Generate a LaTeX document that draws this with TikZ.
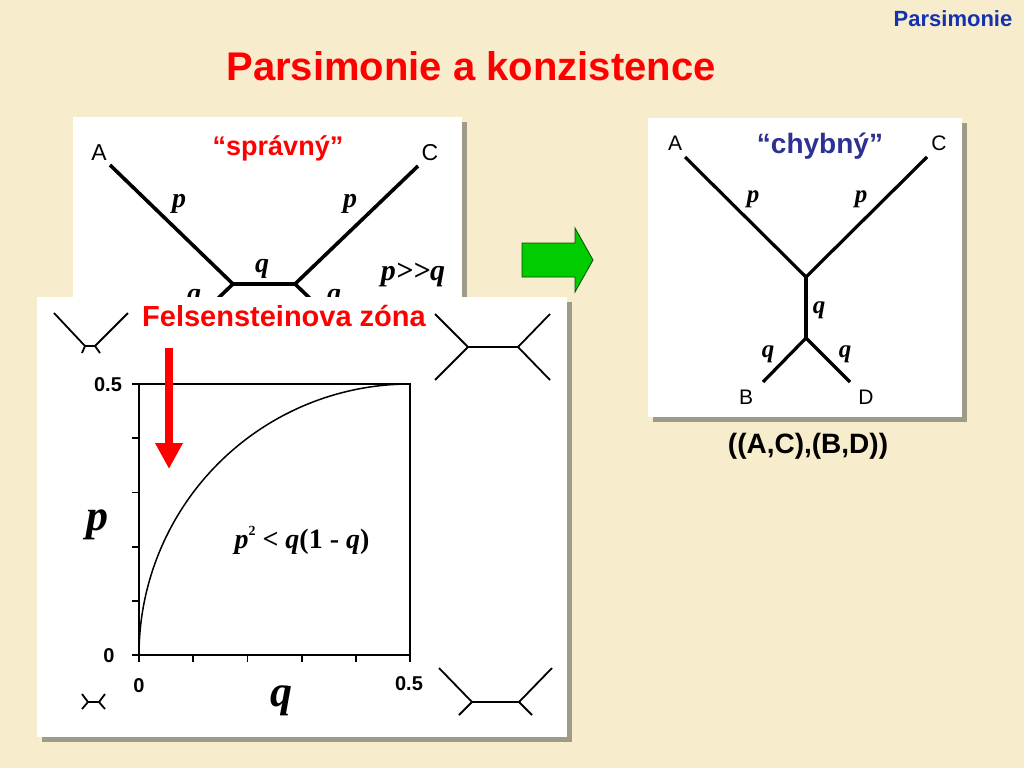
\documentclass[tikz,border=0pt]{standalone}
\usepackage{fontspec}
\setmainfont{Liberation Serif}
\setsansfont{Liberation Sans}
\usetikzlibrary{arrows.meta}
\definecolor{bg}{RGB}{247,236,203}
\definecolor{shadowc}{RGB}{160,154,136}
\definecolor{tred}{RGB}{255,0,0}
\definecolor{hdrblue}{RGB}{20,50,175}
\definecolor{chyblue}{RGB}{46,49,146}
\definecolor{agreen}{RGB}{0,204,0}
\definecolor{agreenline}{RGB}{0,80,0}
\tikzset{
  panelbox/.style={fill=white},
  shadowbox/.style={fill=shadowc},
  branch/.style={line width=3.6pt},
  rbranch/.style={line width=3.2pt},
  smallbr/.style={line width=1.8pt},
  axisline/.style={line width=1.8pt},
  leaflab/.style={font=\sffamily\fontsize{23}{23}\selectfont, inner sep=0pt, anchor=base},
  rleaflab/.style={font=\sffamily\fontsize{21}{21}\selectfont, inner sep=0pt, anchor=base},
  brlab/.style={font=\bfseries\itshape\fontsize{28}{28}\selectfont, inner sep=0pt, anchor=base},
  rbrlab/.style={font=\bfseries\itshape\fontsize{25}{25}\selectfont, inner sep=0pt, anchor=base},
  ticklab/.style={font=\sffamily\bfseries\fontsize{20}{20}\selectfont, inner sep=0pt},
  bigvar/.style={font=\bfseries\itshape\fontsize{44}{44}\selectfont, inner sep=0pt, anchor=base},
  redhead/.style={font=\sffamily\bfseries\fontsize{28}{28}\selectfont, text=tred, inner sep=0pt, anchor=base},
}
\begin{document}
\begin{tikzpicture}[x=1pt,y=-1pt]
\fill[bg] (0,0) rectangle (1024,768);
\useasboundingbox (0,0) rectangle (1024,768);

% header texts
\node[font=\sffamily\bfseries\fontsize{22}{22}\selectfont, text=hdrblue, inner sep=0pt, anchor=base] (hdr) at (953,27) {Parsimonie};
\node[font=\sffamily\bfseries\fontsize{40}{40}\selectfont, text=tred, inner sep=0pt, anchor=base] (title) at (471,80) {Parsimonie a konzistence};

% ---------- left top panel ----------
\fill[shadowbox] (78,122) rectangle (467,400);
\fill[panelbox] (73,117) rectangle (462,400);
\coordinate (lA) at (110,165);
\coordinate (lC) at (418,166);
\coordinate (lu) at (233,284);
\coordinate (lv) at (295,284);
\coordinate (lB) at (210,306);
\coordinate (lD) at (318,306);
\draw[branch] (lA) -- (lu) -- (lv) -- (lC);
\draw[branch] (lu) -- (lB);
\draw[branch] (lv) -- (lD);
\node[leaflab] (labA) at (99,160) {A};
\node[leaflab] (labC) at (430,160) {C};
\node[redhead, font=\sffamily\bfseries\fontsize{27}{27}\selectfont] (spr) at (278,155) {“správný”};
\node[brlab] (lp1) at (179,207) {p};
\node[brlab] (lp2) at (350,207) {p};
\node[brlab] (lq1) at (262,272) {q};
\begin{scope}
\clip (0,0) rectangle (1024,297);
\node[brlab] (lq2) at (194,302) {q};
\node[brlab] (lq3) at (334,302) {q};
\end{scope}
\node[brlab, font=\bfseries\itshape\fontsize{30}{30}\selectfont] (pq) at (413,280) {p>{}>q};

% ---------- green arrow ----------
\draw[fill=agreen, draw=agreenline, line width=0.8pt, line join=miter]
  (522,243) -- (575,243) -- (575,228) -- (593,260) -- (575,292) -- (575,277) -- (522,277) -- cycle;

% ---------- lower-left panel ----------
\fill[shadowbox] (42,302) rectangle (572,742);
\fill[panelbox] (37,297) rectangle (567,737);
\node[redhead, font=\sffamily\bfseries\fontsize{29}{29}\selectfont] (fz) at (284,326) {Felsensteinova zóna};

% small trees
\coordinate (a1) at (54,313); \coordinate (a2) at (85,346); \coordinate (a3) at (95,346);
\coordinate (a4) at (128,313); \coordinate (a5) at (82,353); \coordinate (a6) at (100,353);
\draw[smallbr] (a1) -- (a2) -- (a3) -- (a4);
\draw[smallbr] (a2) -- (a5);
\draw[smallbr] (a3) -- (a6);

\coordinate (b1) at (435,314); \coordinate (b2) at (468,347); \coordinate (b3) at (518,347);
\coordinate (b4) at (550,314); \coordinate (b5) at (435,380); \coordinate (b6) at (550,380);
\draw[smallbr] (b1) -- (b2) -- (b3) -- (b4);
\draw[smallbr] (b2) -- (b5);
\draw[smallbr] (b3) -- (b6);

\coordinate (c1) at (82,694); \coordinate (c2) at (88,702); \coordinate (c3) at (99,702);
\coordinate (c4) at (105,694); \coordinate (c5) at (82,709); \coordinate (c6) at (105,709);
\draw[smallbr] (c1) -- (c2) -- (c3) -- (c4);
\draw[smallbr] (c2) -- (c5);
\draw[smallbr] (c3) -- (c6);

\coordinate (d1) at (439,668); \coordinate (d2) at (472,702); \coordinate (d3) at (519,702);
\coordinate (d4) at (552,668); \coordinate (d5) at (459,715); \coordinate (d6) at (532,715);
\draw[smallbr] (d1) -- (d2) -- (d3) -- (d4);
\draw[smallbr] (d2) -- (d5);
\draw[smallbr] (d3) -- (d6);

% plot
\draw[axisline] (139,384) rectangle (410,655);
\foreach \i in {0,...,5} {
  \draw[axisline] (132,{384+\i*54.2}) -- (139,{384+\i*54.2});
  \draw[axisline] ({139+\i*54.2},655) -- ({139+\i*54.2},662);
}
\draw[line width=1.5pt] plot[domain=180:90, samples=90, smooth] ({410+271*cos(\x)}, {655-271*sin(\x)});
\node[ticklab] (y05) at (108,385) {0.5};
\node[ticklab] (y0) at (109,656) {0};
\node[ticklab] (x0) at (139,686) {0};
\node[ticklab] (x05) at (409,684) {0.5};
\node[bigvar] (pax) at (97,530) {p};
\node[bigvar] (qax) at (281,706) {q};
\node[font=\bfseries\fontsize{28}{28}\selectfont, inner sep=0pt, anchor=base] (formula) at (302,548) {\textit{p}\raisebox{0.45em}{\fontsize{14}{14}\selectfont 2} < \textit{q}(1 - \textit{q})};

% red arrow
\coordinate (rs) at (169,348);
\coordinate (re) at (169,469);
\draw[tred, line width=8pt, -{Triangle[width=26pt,length=26pt]}] (rs) -- (re);

% ---------- right panel ----------
\fill[shadowbox] (653,123) rectangle (967,422);
\fill[panelbox] (648,118) rectangle (962,417);
\coordinate (rA) at (685,157);
\coordinate (rC) at (927,157);
\coordinate (ru) at (806,277);
\coordinate (rv) at (806,338);
\coordinate (rB) at (763,382);
\coordinate (rD) at (850,382);
\draw[rbranch] (rA) -- (ru) -- (rC);
\draw[rbranch] (ru) -- (rv);
\draw[rbranch] (rB) -- (rv) -- (rD);
\node[rleaflab] (rlabA) at (675,150) {A};
\node[rleaflab] (rlabC) at (939,150) {C};
\node[rleaflab] (rlabB) at (746,404) {B};
\node[rleaflab] (rlabD) at (866,404) {D};
\node[font=\sffamily\bfseries\fontsize{28}{28}\selectfont, text=chyblue, inner sep=0pt, anchor=base] (chy) at (820,153) {“chybný”};
\node[rbrlab] (rp1) at (753,202) {p};
\node[rbrlab] (rp2) at (861,202) {p};
\node[rbrlab] (rq1) at (819,313) {q};
\node[rbrlab] (rq2) at (768,357) {q};
\node[rbrlab] (rq3) at (845,357) {q};
\node[font=\sffamily\bfseries\fontsize{28}{28}\selectfont, inner sep=0pt, anchor=base] (newick) at (808,453) {((A,C),(B,D))};
\end{tikzpicture}
\end{document}
